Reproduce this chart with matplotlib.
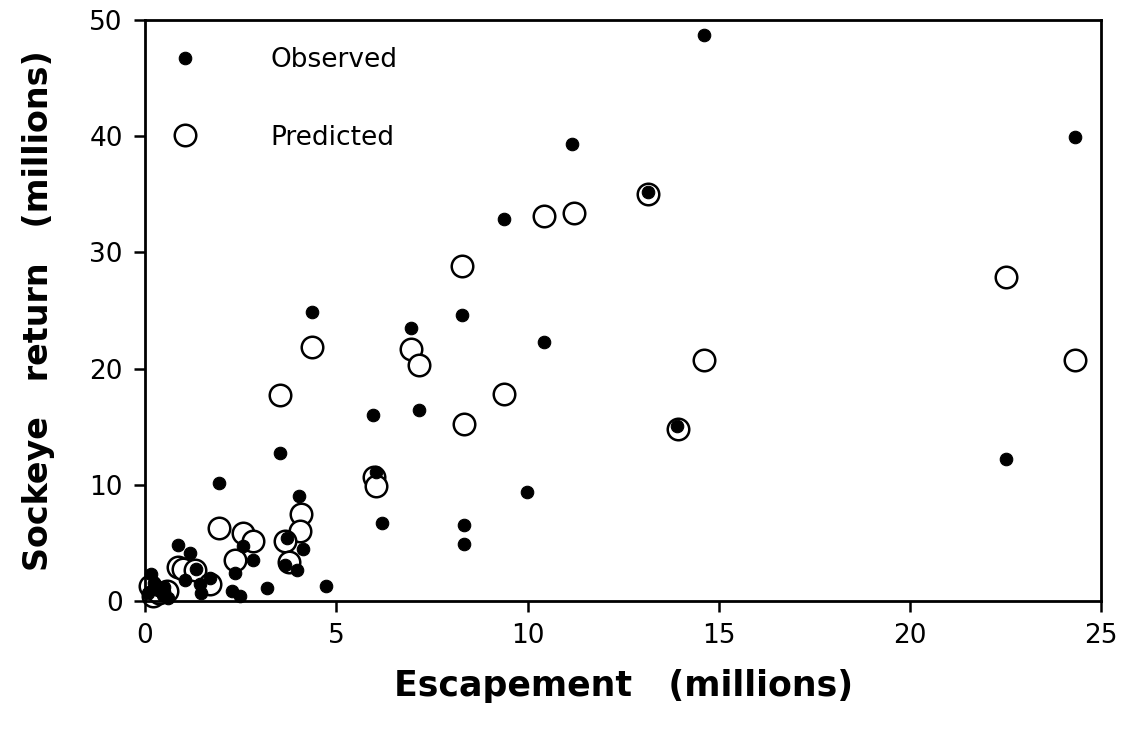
import matplotlib
matplotlib.use("Agg")
import matplotlib.pyplot as plt

# observed returns (millions)
obs_escapement = [14.62, 24.32, 11.17, 13.16, 9.39, 4.36, 8.28, 6.95, 10.43, 7.16,
                  5.97, 13.90, 3.53, 22.51, 6.04, 1.92, 9.99, 4.01, 6.19, 8.34,
                  8.34, 4.72, 3.72, 4.12, 3.66, 3.97, 2.55, 2.83, 2.34, 3.18,
                  2.28, 2.48, 0.86, 1.17, 1.33, 1.43, 1.70, 1.47, 1.04, 0.16,
                  0.34, 0.47, 0.08, 0.60, 0.22, 0.50]
obs_return = [48.7, 39.95, 39.35, 35.2, 32.9, 24.85, 24.65, 23.5, 22.3, 16.4,
              16.0, 15.1, 12.75, 12.26, 11.1, 10.2, 9.36, 9.05, 6.73, 6.53,
              4.95, 1.27, 5.4, 4.5, 3.09, 2.66, 4.72, 3.55, 2.43, 1.09,
              0.9, 0.4, 4.8, 4.1, 2.75, 1.5, 1.95, 0.66, 1.8, 2.3,
              0.95, 0.5, 0.66, 0.26, 1.6, 1.2]

# predicted returns (millions)
pred_escapement = [22.51, 24.32, 14.62, 13.16, 11.20, 10.43, 8.28, 4.36, 6.95, 7.16,
                   3.53, 9.39, 8.34, 13.92, 5.99, 6.04, 4.08, 4.04, 3.66, 3.75,
                   1.92, 2.55, 2.83, 2.34, 0.85, 1.00, 1.30, 1.70, 0.12, 0.56,
                   0.21, 0.35]
pred_return = [27.86, 20.7, 20.76, 35.0, 33.4, 33.1, 28.8, 21.85, 21.65, 20.3,
               17.76, 17.8, 15.2, 14.8, 10.7, 9.9, 7.47, 6.0, 5.15, 3.4,
               6.3, 5.85, 5.2, 3.58, 2.9, 2.8, 2.7, 1.5, 1.3, 0.9,
               0.4, 0.7]

fig = plt.figure(figsize=(11.25, 7.34), dpi=100)
ax = fig.add_axes([0.129, 0.181, 0.850, 0.792])

ax.plot(pred_escapement, pred_return, linestyle="none", marker="o", markersize=15.5,
        markerfacecolor="white", markeredgecolor="black", markeredgewidth=1.8,
        label="Predicted", zorder=2, clip_on=False)
ax.plot(obs_escapement, obs_return, linestyle="none", marker="o", markersize=9,
        markerfacecolor="black", markeredgecolor="black", markeredgewidth=0.8,
        label="Observed", zorder=3, clip_on=False)

ax.set_xlim(0, 25)
ax.set_ylim(0, 50)
ax.set_xticks([0, 5, 10, 15, 20, 25])
ax.set_yticks([0, 10, 20, 30, 40, 50])

for side in ["left", "right", "top", "bottom"]:
    ax.spines[side].set_linewidth(2.0)
    ax.spines[side].set_zorder(4)
ax.tick_params(axis="both", direction="out", length=8, width=1.8,
               labelsize=19, pad=8, top=False, right=False)

ax.set_xlabel("Escapement   (millions)", fontsize=25, fontweight="bold", labelpad=14)
ax.set_ylabel("Sockeye   return   (millions)", fontsize=24, fontweight="bold", labelpad=25)

handles, labels = ax.get_legend_handles_labels()
ax.legend(handles[::-1], labels[::-1], loc="upper left", bbox_to_anchor=(0.028, 0.953),
          frameon=False, fontsize=19, handlelength=1.0, handletextpad=2.75,
          labelspacing=1.95, borderpad=0, borderaxespad=0, numpoints=1)

fig.savefig("out.png", dpi=100)
